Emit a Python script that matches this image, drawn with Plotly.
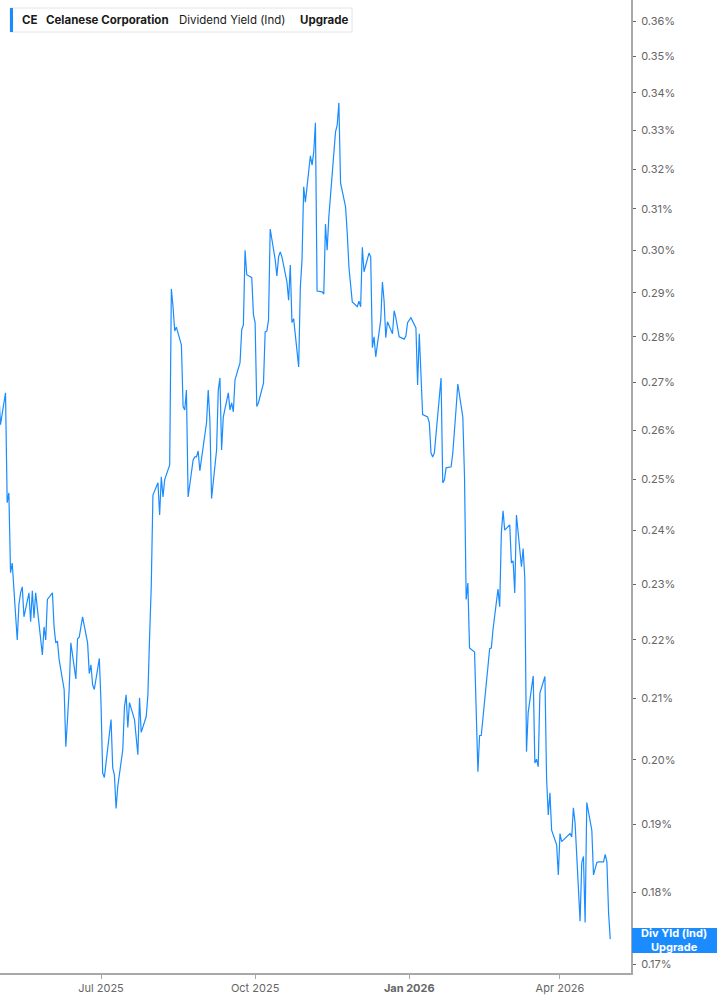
import pandas as pd
import plotly.graph_objects as go

# Daily dividend yield (%) for CE, trading days from 2025-05-01 to 2026-05-01
start_date = "2025-05-01"
end_date = "2026-05-01"
market_holidays = ["2025-05-26", "2025-06-19", "2025-07-04", "2025-09-01", "2025-11-27",
                   "2025-12-25", "2026-01-01", "2026-01-19", "2026-02-16", "2026-04-03"]

div_yield = [
    0.2678, 0.2611, 0.2678, 0.2454, 0.2473, 0.2321, 0.2339, 0.2200, 0.2263, 0.2284,
    0.2295, 0.2241, 0.2284, 0.2232, 0.2288, 0.2239, 0.2284, 0.2174, 0.2223, 0.2200,
    0.2272, 0.2284, 0.2223, 0.2195, 0.2198, 0.2166, 0.2115, 0.2021, 0.2065, 0.2115,
    0.2195, 0.2133, 0.2202, 0.2205, 0.2241, 0.2195, 0.2142, 0.2157, 0.2123, 0.2115,
    0.2168, 0.2093, 0.1979, 0.1972, 0.2065, 0.1987, 0.1976, 0.1924, 0.1958, 0.2016,
    0.2086, 0.2106, 0.2052, 0.2093, 0.2065, 0.2037, 0.2008, 0.2101, 0.2044, 0.2070,
    0.2106, 0.2205, 0.2295, 0.2469, 0.2493, 0.2430, 0.2505, 0.2465, 0.2499, 0.2529,
    0.2909, 0.2868, 0.2813, 0.2822, 0.2782, 0.2649, 0.2642, 0.2684, 0.2465, 0.2539,
    0.2545, 0.2545, 0.2557, 0.2517, 0.2615, 0.2684, 0.2621, 0.2462, 0.2559, 0.2684,
    0.2710, 0.2559, 0.2627, 0.2678, 0.2642, 0.2657, 0.2638, 0.2706, 0.2743, 0.2816,
    0.2827, 0.3000, 0.2942, 0.2935, 0.2850, 0.2832, 0.2649, 0.2657, 0.2699, 0.2811,
    0.2813, 0.2838, 0.3051, 0.2977, 0.2939, 0.2984, 0.2996, 0.2984, 0.2925, 0.2883,
    0.2965, 0.2832, 0.2841, 0.2734, 0.2913, 0.2977, 0.3155, 0.3117, 0.3234, 0.3210,
    0.3244, 0.3320, 0.2904, 0.2902, 0.2897, 0.3063, 0.3000, 0.3080, 0.3249, 0.3296,
    0.3314, 0.3373, 0.3165, 0.3105, 0.3041, 0.2960, 0.2879, 0.2868, 0.2881, 0.2868,
    0.3007, 0.2949, 0.2993, 0.2984, 0.2776, 0.2800, 0.2756, 0.2838, 0.2925, 0.2881,
    0.2798, 0.2834, 0.2807, 0.2859, 0.2843, 0.2800, 0.2795, 0.2802, 0.2832, 0.2843,
    0.2820, 0.2695, 0.2807, 0.2721, 0.2632, 0.2627, 0.2615, 0.2553, 0.2545, 0.2553,
    0.2710, 0.2493, 0.2499, 0.2523, 0.2525, 0.2553, 0.2594, 0.2646, 0.2697, 0.2627,
    0.2505, 0.2272, 0.2302, 0.2186, 0.2179, 0.2070, 0.1981, 0.2039, 0.2039, 0.2154,
    0.2185, 0.2186, 0.2218, 0.2291, 0.2259, 0.2396, 0.2438, 0.2401, 0.2411, 0.2339,
    0.2343, 0.2284, 0.2430, 0.2332, 0.2366, 0.2311, 0.2013, 0.2076, 0.2138, 0.1995,
    0.2001, 0.1989, 0.2109, 0.2137, 0.1970, 0.1914, 0.1948, 0.1891, 0.1869, 0.1825,
    0.1886, 0.1874, 0.1883, 0.1886, 0.1881, 0.1925, 0.1902, 0.1759, 0.1843, 0.1852,
    0.1757, 0.1933, 0.1891, 0.1825, 0.1834, 0.1843, 0.1844, 0.1844, 0.1855, 0.1844,
    0.1771, 0.1734,
]

y_tick_vals = [0.17, 0.18, 0.19, 0.20, 0.21, 0.22, 0.23, 0.24, 0.25, 0.26, 0.27,
               0.28, 0.29, 0.30, 0.31, 0.32, 0.33, 0.34, 0.35, 0.36]
y_tick_text = [f"{v:.2f}%" for v in y_tick_vals]
x_tick_vals = ["2025-07-01", "2025-10-01", "2026-01-01", "2026-04-01"]
x_tick_text = ["Jul 2025", "Oct 2025", "<b>Jan 2026</b>", "Apr 2026"]

dates = pd.bdate_range(start=start_date, end=end_date, freq="C", holidays=market_holidays)
n = min(len(dates), len(div_yield))
dates = dates[:n]
vals = div_yield[:n]

BLUE = "#1a8cff"
W, H = 717, 1005
L, R, T, B = 0, 86, 0, 32
pw = W - L - R
ph = H - T - B

fig = go.Figure()
fig.add_trace(go.Scatter(x=dates, y=vals, mode="lines",
                         line=dict(color=BLUE, width=1.2), showlegend=False,
                         hoverinfo="x+y"))

fig.update_layout(
    width=W, height=H,
    margin=dict(l=L, r=R, t=T, b=B, pad=0),
    paper_bgcolor="white", plot_bgcolor="white",
    font=dict(family="Inter, Roboto, sans-serif", size=11, color="#666666"),
    showlegend=False,
    xaxis=dict(
        type="date",
        range=["2025-05-01 17:00", "2026-05-13 09:20"],
        tickvals=x_tick_vals, ticktext=x_tick_text,
        showgrid=False, zeroline=False,
        showline=True, linecolor="#a8a8a8", linewidth=2,
        ticks="outside", ticklen=4, tickcolor="#a8a8a8", tickwidth=1,
        tickfont=dict(size=11, color="#666666"),
    ),
    yaxis=dict(
        type="log", side="right",
        range=[-0.77265, -0.43643],
        tickvals=y_tick_vals, ticktext=y_tick_text,
        showgrid=False, zeroline=False,
        showline=True, linecolor="#a8a8a8", linewidth=2,
        ticks="outside", ticklen=3, tickcolor="#666666", tickwidth=1,
        ticklabelstandoff=3,
        tickfont=dict(size=11, color="#666666"),
    ),
)

def px_x(p):
    return (p - L) / pw

def px_y(p):
    return 1 - (p - T) / ph

# header box
fig.add_shape(type="rect", xref="paper", yref="paper",
              x0=px_x(10), x1=px_x(352), y0=px_y(32), y1=px_y(8),
              line=dict(color="#e4e4e4", width=1), fillcolor="white", layer="above")
fig.add_shape(type="rect", xref="paper", yref="paper",
              x0=px_x(10), x1=px_x(13), y0=px_y(32), y1=px_y(8),
              line=dict(width=0), fillcolor=BLUE, layer="above")

header = [(19.5, "<b>CE</b>"), (43.5, "<b>Celanese Corporation</b>"),
          (176.5, "Dividend Yield (Ind)"), (297.5, "<b>Upgrade</b>")]
for xp, txt in header:
    fig.add_annotation(xref="paper", yref="paper", x=px_x(xp), y=px_y(20.5),
                       xanchor="left", yanchor="middle", text=txt, showarrow=False,
                       font=dict(family="Inter, Roboto, sans-serif", size=11.5, color="#1a1a1a"))

# end label
fig.add_shape(type="rect", xref="paper", yref="paper",
              x0=px_x(632), x1=px_x(717), y0=px_y(953), y1=px_y(928),
              line=dict(width=0), fillcolor=BLUE, layer="above")
fig.add_annotation(xref="paper", yref="paper", x=px_x(674), y=px_y(940),
                   xanchor="center", yanchor="middle",
                   text="<b>Div Yld (Ind)</b><br><b>Upgrade</b>", showarrow=False,
                   font=dict(family="Inter, Roboto, sans-serif", size=11, color="white"))

fig.write_html("out.html",
               config={"displayModeBar": False},
               post_script="document.body.style.margin='0';document.body.style.overflow='hidden';")
